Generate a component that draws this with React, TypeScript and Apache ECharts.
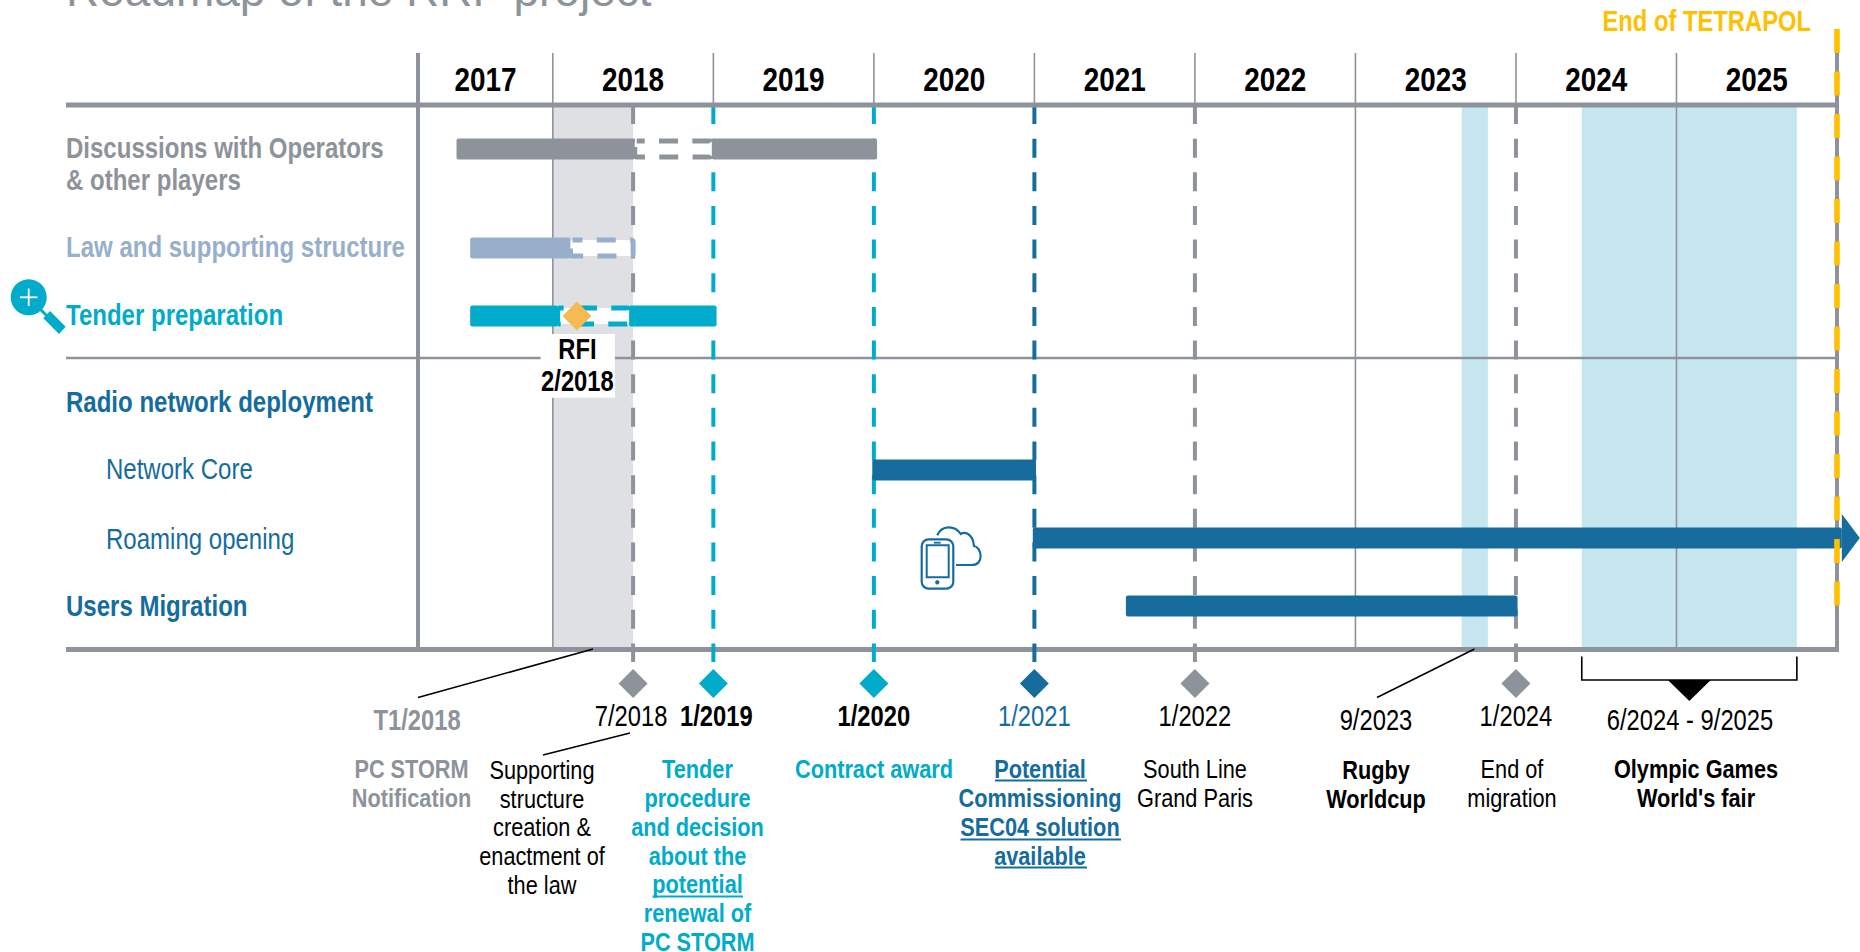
import React, { useEffect, useRef } from "react";
import * as echarts from "echarts";

// Project schedule values, in decimal years
const years = [2017, 2018, 2019, 2020, 2021, 2022, 2023, 2024, 2025];
const yearBoundaries = [2018, 2019, 2020, 2021, 2022, 2023, 2024, 2025];
const fullHeightBoundaries = [2018, 2023, 2025];
const axisStart = 2017.16;
const axisEnd = 2026;

const taskNames = ["Discussions", "Law", "Tender", "Network Core", "Roaming", "Users Migration"];
const taskStarts = [2017.4, 2017.485, 2017.485, 2019.99, 2020.99, 2021.57];
const taskEnds = [2020.02, 2018.5, 2019.02, 2021.01, 2026.03, 2024.01];
const holeStarts = [2018.51, 2018.11, 2018.03];
const holeEnds = [2018.99, 2018.5, 2018.475];

const milestoneDates = [2018.5, 2019, 2020, 2021, 2022, 2024];
const milestoneLabels = ["7/2018", "1/2019", "1/2020", "1/2021", "1/2022", "1/2024"];
const rfiDate = 2018.15;
const notificationBand = [2018, 2018.5];
const eventBands = [
  [2023.662, 2023.825],
  [2024.41, 2025.75],
];
const tetrapolEnd = 2026;

// Page layout and palette
const FONT = '"Liberation Sans", Arial, sans-serif';
const NARROW = 0.82;
const GRAY = "#8e939b";
const TEAL = "#00acc9";
const NAVY = "#156c9d";
const STEEL = "#98afcc";
const YELLOW = "#ffc000";
const AMBER = "#f5ba50";
const BAND_GRAY = "#dfe0e4";
const BAND_BLUE = "#c5e6ef";

const HEADER_TOP = 53;
const HEADER_Y = 105;
const MID_Y = 358;
const BOTTOM_Y = 649.5;
const BAR_H = 21;
const LABEL_LEFT = 66;
const LINE_STEP = 28.75;

const taskRowY = [149, 248, 316, 470, 538, 606];
const taskColors = [GRAY, STEEL, TEAL, NAVY, NAVY, NAVY];
const holeDashOffset = [11.3, 9.3, 15.3];
const milestoneColors = [GRAY, TEAL, TEAL, NAVY, GRAY, GRAY];
const milestoneLabelDx = [-2, 3, 0, 0, 0, 0];
const milestoneLabelColors = ["#000", "#000", "#000", NAVY, "#000", "#000"];
const milestoneLabelWeights = ["normal", "bold", "bold", "normal", "normal", "normal"];

type Note = { lines: string[]; x: number; y: number; color: string; weight: string; size: number };

const rowHeadings: Note[] = [
  { lines: ["Discussions with Operators"], x: LABEL_LEFT, y: 148, color: GRAY, weight: "bold", size: 29.3 },
  { lines: ["& other players"], x: LABEL_LEFT, y: 180, color: GRAY, weight: "bold", size: 29.3 },
  { lines: ["Law and supporting structure"], x: LABEL_LEFT, y: 247, color: STEEL, weight: "bold", size: 29.3 },
  { lines: ["Tender preparation"], x: LABEL_LEFT, y: 315, color: TEAL, weight: "bold", size: 29.3 },
  { lines: ["Radio network deployment"], x: LABEL_LEFT, y: 402, color: NAVY, weight: "bold", size: 29.3 },
  { lines: ["Network Core"], x: 106, y: 469, color: NAVY, weight: "normal", size: 29.3 },
  { lines: ["Roaming opening"], x: 106, y: 539, color: NAVY, weight: "normal", size: 29.3 },
  { lines: ["Users Migration"], x: LABEL_LEFT, y: 606, color: NAVY, weight: "bold", size: 29.3 },
];

const belowAxisNotes: Note[] = [
  { lines: ["T1/2018"], x: 417, y: 720.5, color: GRAY, weight: "bold", size: 29 },
  { lines: ["9/2023"], x: 1376, y: 720.5, color: "#000", weight: "normal", size: 29 },
  { lines: ["6/2024 - 9/2025"], x: 1690, y: 720.5, color: "#000", weight: "normal", size: 29 },
  { lines: ["PC STORM", "Notification"], x: 411.5, y: 769, color: GRAY, weight: "bold", size: 26.5 },
  { lines: ["Supporting", "structure", "creation &", "enactment of", "the law"], x: 542, y: 769.5, color: "#000", weight: "normal", size: 26.5 },
  { lines: ["Tender", "procedure", "and decision", "about the", "potential", "renewal of", "PC STORM"], x: 697.5, y: 769, color: TEAL, weight: "bold", size: 26.5 },
  { lines: ["Contract award"], x: 874, y: 769, color: TEAL, weight: "bold", size: 26.5 },
  { lines: ["Potential", "Commissioning", "SEC04 solution", "available"], x: 1040, y: 769, color: NAVY, weight: "bold", size: 26.5 },
  { lines: ["South Line", "Grand Paris"], x: 1195, y: 769, color: "#000", weight: "normal", size: 26.5 },
  { lines: ["Rugby", "Worldcup"], x: 1376, y: 770, color: "#000", weight: "bold", size: 26.5 },
  { lines: ["End of", "migration"], x: 1512, y: 769, color: "#000", weight: "normal", size: 26.5 },
  { lines: ["Olympic Games", "World's fair"], x: 1696, y: 769, color: "#000", weight: "bold", size: 26.5 },
];

const underlines = [
  { x1: 652.5, x2: 743, y: 896.5, color: TEAL },
  { x1: 995, x2: 1087, y: 780.5, color: NAVY },
  { x1: 960.5, x2: 1121, y: 839.5, color: NAVY },
  { x1: 995, x2: 1087, y: 867.5, color: NAVY },
];

const callouts = [
  { x1: 593, y1: 649, x2: 418, y2: 697.5 },
  { x1: 630, y1: 733, x2: 543, y2: 755 },
  { x1: 1474.5, y1: 649, x2: 1377, y2: 697.5 },
];

const CLOUD_PATH =
  "M15.6 1.3 C20 -9 33 -9 39 0 C42 -2 51 -2 52.3 12 C60 13 63 31 50 31 L34.3 31";
echarts.graphic.registerShape("iconCloud", echarts.graphic.extendPath(CLOUD_PATH, {}));

// All captions use a horizontally condensed face
const text = (
  value: string,
  x: number,
  y: number,
  size: number,
  fill: string,
  weight = "normal",
  align = "center",
) => ({
  type: "text",
  x,
  y,
  scaleX: NARROW,
  style: { text: value, x: 0, y: 0, fill, align, verticalAlign: "middle", font: `${weight} ${size}px ${FONT}` },
});

const line = (x1: number, y1: number, x2: number, y2: number, stroke: string, lineWidth: number, lineDash?: number[]) => ({
  type: "line",
  shape: { x1, y1, x2, y2 },
  style: { stroke, lineWidth, lineDash },
});

// One custom-series layer per drawing level, so the stacking order stays explicit
const layer = (name: string, items: any[], draw: (item: any, api: any, index: number) => any) => ({
  type: "custom",
  name,
  coordinateSystem: "cartesian2d",
  clip: false,
  silent: true,
  data: items.map((_, i) => [i, 0]),
  renderItem: (params: any, api: any) => draw(items[params.dataIndex], api, params.dataIndex),
});

const pointAt = (api: any, year: number, y: number) => api.coord([year, y]);

const buildOption = () => {
  const allBands = [{ span: notificationBand, fill: BAND_GRAY }, ...eventBands.map((span) => ({ span, fill: BAND_BLUE }))];

  return {
    animation: false,
    backgroundColor: "#fff",
    grid: { left: 418, right: 23, top: 0, bottom: 0 },
    xAxis: { type: "value", min: axisStart, max: axisEnd, show: false },
    yAxis: { type: "value", min: 0, max: 952, inverse: true, show: false },
    series: [
      layer("bands", allBands, (band, api) => {
        const [x0, y0] = pointAt(api, band.span[0], HEADER_Y);
        const [x1, y1] = pointAt(api, band.span[1], BOTTOM_Y);
        return { type: "rect", shape: { x: x0, y: y0, width: x1 - x0, height: y1 - y0 }, style: { fill: band.fill } };
      }),
      layer("year boundaries", yearBoundaries, (year, api) => {
        const bottom = fullHeightBoundaries.includes(year) ? BOTTOM_Y : HEADER_Y;
        const [x] = pointAt(api, year, 0);
        return line(x, HEADER_TOP, x, bottom, GRAY, 1.6);
      }),
      layer("section rule", [MID_Y], (y, api) => {
        const [x1, py] = pointAt(api, axisEnd, y);
        return line(LABEL_LEFT, py, x1, py, GRAY, 2.6);
      }),
      layer("bottom rule", [BOTTOM_Y], (y, api) => {
        const [x1, py] = pointAt(api, axisEnd, y);
        return line(LABEL_LEFT, py, x1 + 2, py, GRAY, 5);
      }),
      layer("frame", [axisStart, axisEnd], (year, api) => {
        const [x, y0] = pointAt(api, year, HEADER_TOP);
        return line(x, y0, x, BOTTOM_Y, GRAY, 4);
      }),
      layer("milestone guides", milestoneDates, (year, api, i) => {
        const [x] = pointAt(api, year, 0);
        return line(x, HEADER_Y, x, 662, milestoneColors[i], 4, [19, 14.65]);
      }),
      layer("header rule", [HEADER_Y], (y, api) => {
        const [x1, py] = pointAt(api, axisEnd, y);
        return line(LABEL_LEFT, py, x1 + 2, py, GRAY, 5);
      }),
      layer("tasks", taskNames, (_name, api, i) => {
        const y = taskRowY[i];
        const top = y - BAR_H / 2;
        const [x0] = pointAt(api, taskStarts[i], y);
        const [x1] = pointAt(api, taskEnds[i], y);
        const fill = taskColors[i];
        const solid = (a: number, b: number) => ({
          type: "rect",
          shape: { x: a, y: top, width: b - a, height: BAR_H, r: 2 },
          style: { fill },
        });
        const children: any[] = [];
        if (i < holeStarts.length) {
          // Tentative part of a task: white fill with a dashed outline in the task colour
          const [h0] = pointAt(api, holeStarts[i], y);
          const [h1] = pointAt(api, holeEnds[i], y);
          children.push(solid(x0, h0));
          if (x1 > h1) children.push(solid(h1, x1));
          children.push({
            type: "rect",
            shape: { x: h0, y: top + 2.5, width: h1 - h0, height: BAR_H - 5, r: 2 },
            style: { fill: "#fff", stroke: fill, lineWidth: 5, lineDash: [19, 14.3], lineDashOffset: holeDashOffset[i] },
          });
        } else {
          children.push(solid(x0, x1));
        }
        if (taskNames[i] === "Roaming") {
          children.push({
            type: "polygon",
            shape: { points: [[x1, y - 24], [x1 + 18, y], [x1, y + 24]] },
            style: { fill },
          });
        }
        return { type: "group", children };
      }),
      {
        type: "scatter",
        name: "milestones",
        symbol: "diamond",
        symbolSize: [29, 29],
        silent: true,
        clip: false,
        z: 3,
        data: milestoneDates.map((year, i) => ({ value: [year, 683.5], itemStyle: { color: milestoneColors[i], opacity: 1 } })),
      },
      layer("rfi backdrop", [rfiDate], (year, api) => {
        const [x, y] = pointAt(api, year, 334);
        return { type: "rect", shape: { x: x - 36.3, y, width: 74.3, height: 63.7 }, style: { fill: "#fff" } };
      }),
      {
        type: "scatter",
        name: "RFI",
        symbol: "diamond",
        symbolSize: [29, 29],
        silent: true,
        clip: false,
        z: 4,
        data: [{ value: [rfiDate, 316], itemStyle: { color: AMBER, opacity: 1 } }],
      },
      layer("tetrapol end", [tetrapolEnd], (year, api) => {
        const [x] = pointAt(api, year, 0);
        return { ...line(x, 29, x, 606, YELLOW, 5.6, [24, 18.5]), z2: 10 };
      }),
      layer("year labels", years, (year, api, i) => {
        const from = i === 0 ? axisStart : year;
        const to = Math.min(year + 1, axisEnd);
        const [x] = pointAt(api, (from + to) / 2, 80);
        return text(String(year), x, 80, 34, "#000", "bold");
      }),
      layer("milestone labels", milestoneLabels, (label, api, i) => {
        const [x] = pointAt(api, milestoneDates[i], 716.5);
        return text(label, x + milestoneLabelDx[i], 716.5, 29, milestoneLabelColors[i], milestoneLabelWeights[i]);
      }),
      layer("rfi label", [rfiDate], (year, api) => {
        const [x] = pointAt(api, year, 0);
        return {
          type: "group",
          children: [text("RFI", x + 0.5, 349, 29, "#000", "bold"), text("2/2018", x + 0.5, 381.5, 29, "#000", "bold")],
        };
      }),
      layer("row headings", rowHeadings, (note) =>
        text(note.lines[0], note.x, note.y, note.size, note.color, note.weight, "left"),
      ),
      layer("notes", belowAxisNotes, (note) => ({
        type: "group",
        children: note.lines.map((value: string, i: number) =>
          text(value, note.x, note.y + i * LINE_STEP, note.size, note.color, note.weight),
        ),
      })),
      layer("underlines", underlines, (u) => line(u.x1, u.y, u.x2, u.y, u.color, 1.8)),
      layer("callouts", callouts, (c) => line(c.x1, c.y1, c.x2, c.y2, "#000", 1.6)),
      layer("olympics bracket", [eventBands[1]], (span, api) => {
        const [x0] = pointAt(api, span[0], 0);
        const [x1] = pointAt(api, span[1], 0);
        const mid = (x0 + x1) / 2;
        return {
          type: "group",
          children: [
            { type: "polyline", shape: { points: [[x0, 656.5], [x0, 680], [x1, 680], [x1, 656.5]] }, style: { stroke: "#000", lineWidth: 1.6, fill: "none" } },
            { type: "polygon", shape: { points: [[mid - 21.5, 680], [mid + 21.5, 680], [mid, 701]] }, style: { fill: "#000" } },
          ],
        };
      }),
    ],
    title: {
      text: "Roadmap of the RRF project",
      left: LABEL_LEFT,
      top: -33,
      padding: 0,
      textStyle: { fontFamily: FONT, fontSize: 46, fontWeight: "normal", color: GRAY },
    },
    graphic: [
      { ...text("End of TETRAPOL", 1811, 21, 29, YELLOW, "bold", "right") },
      // Magnifier beside the tender row
      { type: "circle", shape: { cx: 28.7, cy: 297.3, r: 18 }, style: { fill: TEAL } },
      { type: "line", shape: { x1: 20, y1: 297.3, x2: 37.4, y2: 297.3 }, style: { stroke: "#fff", lineWidth: 1.8 } },
      { type: "line", shape: { x1: 28.7, y1: 288.6, x2: 28.7, y2: 306 }, style: { stroke: "#fff", lineWidth: 1.8 } },
      { type: "line", shape: { x1: 40, y1: 309, x2: 47, y2: 316 }, style: { stroke: TEAL, lineWidth: 3 } },
      { type: "polygon", shape: { points: [[50, 311], [65.7, 326.7], [59, 334], [43.3, 318.3]] }, style: { fill: TEAL } },
      // Phone and cloud pictogram beside the roaming row
      { type: "rect", shape: { x: 921.7, y: 539.3, width: 31.6, height: 49.4, r: 7 }, style: { fill: "none", stroke: NAVY, lineWidth: 2.2 } },
      { type: "rect", shape: { x: 926.7, y: 545.3, width: 22, height: 32 }, style: { fill: "none", stroke: NAVY, lineWidth: 2 } },
      { type: "line", shape: { x1: 934, y1: 542.7, x2: 940.7, y2: 542.7 }, style: { stroke: NAVY, lineWidth: 1.8 } },
      { type: "circle", shape: { cx: 937.3, cy: 582.3, r: 2.2 }, style: { fill: NAVY } },
      { type: "iconCloud", x: 921.7, y: 534, style: { fill: "none", stroke: NAVY, lineWidth: 2.2 } },
    ],
  };
};

export default function App() {
  const chartRef = useRef<HTMLDivElement>(null);

  useEffect(() => {
    document.body.style.margin = "0";
    const chart = echarts.init(chartRef.current as HTMLDivElement, null, { renderer: "svg" });
    chart.setOption(buildOption() as any);
    return () => chart.dispose();
  }, []);

  return <div ref={chartRef} style={{ width: 1860, height: 952, background: "#fff" }} />;
}
